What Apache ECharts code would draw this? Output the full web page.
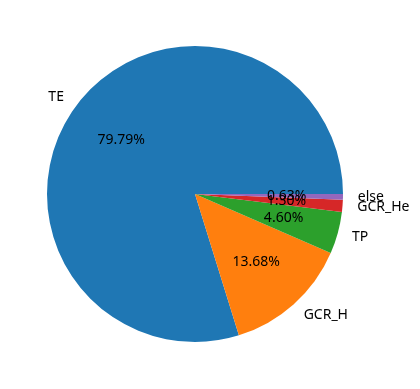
<!DOCTYPE html>
<html><head><meta charset="utf-8">
<script src="https://cdn.jsdelivr.net/npm/echarts@6/dist/echarts.min.js"></script>
<style>html,body{margin:0;padding:0;background:#fff}#c{width:420px;height:389px}</style>
</head><body><div id="c"></div>
<script>
const categories = ['TE', 'GCR_H', 'TP', 'GCR_He', 'else'];
const values = [79.79, 13.68, 4.60, 1.30, 0.63];
const colors = ['#1f77b4', '#ff7f0e', '#2ca02c', '#d62728', '#9467bd'];

const R = 148;
const font = '"Noto Sans", sans-serif';
const chart = echarts.init(document.getElementById('c'));
chart.setOption({
  animation: false,
  series: [
    {
      type: 'pie', center: [195, 194], radius: [0, R],
      startAngle: 0, clockwise: false, avoidLabelOverlap: false,
      silent: true, minShowLabelAngle: 0,
      labelLayout: { hideOverlap: false },
      data: categories.map((n, i) => ({ name: n, value: values[i], itemStyle: { color: colors[i] } })),
      itemStyle: { borderWidth: 0 },
      label: { show: true, position: 'outside', formatter: '{b}', color: '#000', fontSize: 14, fontFamily: font },
      labelLine: { show: false, length: R * 0.1, length2: -5 }
    },
    {
      type: 'pie', center: [195, 194], radius: [R * 0.2, R],
      startAngle: 0, clockwise: false, avoidLabelOverlap: false,
      silent: true, minShowLabelAngle: 0,
      labelLayout: { hideOverlap: false },
      data: categories.map((n, i) => ({ name: n, value: values[i] })),
      itemStyle: { color: 'rgba(0,0,0,0)', borderWidth: 0 },
      label: { show: true, position: 'inside', formatter: p => p.value.toFixed(2) + '%', color: '#000', fontSize: 14, fontFamily: font },
      labelLine: { show: false }
    }
  ]
});
</script></body></html>
